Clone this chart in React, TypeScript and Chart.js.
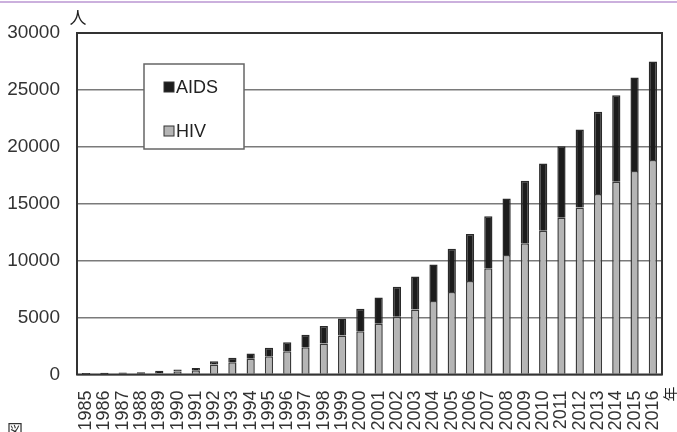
import React, { useEffect, useRef } from "react";
import { Chart, registerables } from "chart.js";

Chart.register(...registerables);

const years = [
  "1985", "1986", "1987", "1988", "1989", "1990", "1991", "1992", "1993", "1994",
  "1995", "1996", "1997", "1998", "1999", "2000", "2001", "2002", "2003", "2004",
  "2005", "2006", "2007", "2008", "2009", "2010", "2011", "2012", "2013", "2014",
  "2015", "2016",
];

const hivValues = [
  40, 50, 60, 70, 120, 260, 380, 880, 1080, 1380,
  1610, 2050, 2400, 2730, 3430, 3810, 4460, 5070, 5720, 6450,
  7240, 8210, 9330, 10490, 11540, 12630, 13770, 14680, 15850, 16930,
  17880, 18850,
];

const aidsValues = [
  100, 110, 120, 130, 210, 190, 190, 290, 390, 470,
  740, 790, 1090, 1520, 1490, 1970, 2310, 2640, 2900, 3220,
  3810, 4130, 4570, 4980, 5480, 5910, 6290, 6850, 7230, 7610,
  8200, 8650,
];

const yTicks = [0, 5000, 10000, 15000, 20000, 25000, 30000];

const FONT = "'Liberation Sans', Arial, sans-serif";
const CJK = "'Noto Sans CJK JP', 'Noto Sans CJK SC', sans-serif";

const decorPlugin = {
  id: "decor",
  afterDatasetsDraw(chart: any) {
    const { ctx } = chart;
    ctx.save();
    const bx = 144, by = 64, bw = 100, bh = 85;
    ctx.fillStyle = "#ffffff";
    ctx.fillRect(bx, by, bw, bh);
    ctx.strokeStyle = "#666";
    ctx.lineWidth = 1.5;
    ctx.strokeRect(bx, by, bw, bh);
    const items = [chart.data.datasets[1], chart.data.datasets[0]];
    const ys = [87, 131];
    items.forEach((ds: any, i: number) => {
      ctx.fillStyle = ds.backgroundColor;
      ctx.fillRect(164, ys[i] - 5, 10, 10);
      ctx.strokeStyle = "#333";
      ctx.lineWidth = 1;
      ctx.strokeRect(164, ys[i] - 5, 10, 10);
      ctx.fillStyle = "#222";
      ctx.font = `18px ${FONT}`;
      ctx.textAlign = "left";
      ctx.textBaseline = "middle";
      ctx.fillText(ds.label, 176, ys[i] + 1);
    });
    ctx.restore();
  },
  afterDraw(chart: any) {
    const { ctx, chartArea } = chart;
    ctx.save();
    ctx.strokeStyle = "#333";
    ctx.lineWidth = 2;
    ctx.strokeRect(
      chartArea.left,
      chartArea.top,
      chartArea.right - chartArea.left,
      chartArea.bottom - chartArea.top
    );
    ctx.fillStyle = "#222";
    ctx.font = `17px ${CJK}`;
    ctx.textAlign = "center";
    ctx.textBaseline = "middle";
    ctx.fillText("人", 78, 18);
    ctx.translate(670, 394);
    ctx.rotate(-Math.PI / 2);
    ctx.font = `15px ${CJK}`;
    ctx.fillText("年", 0, 0);
    ctx.restore();
    ctx.save();
    ctx.fillStyle = "#333";
    ctx.font = `16px ${CJK}`;
    ctx.textAlign = "left";
    ctx.textBaseline = "top";
    ctx.fillText("図", 7, 422);
    ctx.restore();
  },
};

export default function App() {
  const ref = useRef<HTMLCanvasElement | null>(null);

  useEffect(() => {
    if (!ref.current) return;
    const chart = new Chart(ref.current, {
      type: "bar",
      data: {
        labels: years,
        datasets: [
          {
            label: "HIV",
            data: hivValues,
            backgroundColor: "#b5b5b5",
            borderColor: "#3a3a3a",
            borderWidth: 1.5,
            barPercentage: 0.9,
            categoryPercentage: 0.5,
          },
          {
            label: "AIDS",
            data: aidsValues,
            backgroundColor: "#1c1c1c",
            borderColor: "#2a2a2a",
            borderWidth: 1.5,
            barPercentage: 0.9,
            categoryPercentage: 0.5,
          },
        ],
      },
      options: {
        animation: false,
        responsive: false,
        maintainAspectRatio: false,
        layout: { padding: { top: 33, right: 15, left: 0, bottom: 0 } },
        plugins: { legend: { display: false }, tooltip: { enabled: false } },
        scales: {
          x: {
            stacked: true,
            grid: { display: false },
            border: { display: false },
            ticks: {
              autoSkip: false,
              maxRotation: 90,
              minRotation: 90,
              padding: 8,
              color: "#333",
              font: { family: FONT, size: 18 },
            },
            afterFit: (scale: any) => {
              scale.height = 57.5;
              scale.paddingLeft = 0;
              scale.paddingRight = 0;
            },
          },
          y: {
            stacked: true,
            min: 0,
            max: 30000,
            afterBuildTicks: (scale: any) => {
              scale.ticks = yTicks.map((v) => ({ value: v }));
            },
            grid: { color: "#7a7a7a", lineWidth: 1.5, drawTicks: false },
            border: { display: false },
            ticks: {
              padding: 17,
              color: "#333",
              font: { family: FONT, size: 19 },
              callback: (v: any) => String(v),
            },
            afterFit: (scale: any) => {
              scale.width = 77;
              scale.paddingTop = 0;
              scale.paddingBottom = 0;
            },
          },
        },
      },
      plugins: [decorPlugin],
    });
    return () => chart.destroy();
  }, []);

  return (
    <div style={{ position: "absolute", left: 0, top: 0, width: 677, height: 432, background: "#fff", overflow: "hidden" }}>
      <div style={{ position: "absolute", left: 0, top: 1, width: 677, height: 2, background: "#cbb0dd" }} />
      <canvas ref={ref} width={677} height={432} style={{ display: "block", width: 677, height: 432 }} />
    </div>
  );
}
